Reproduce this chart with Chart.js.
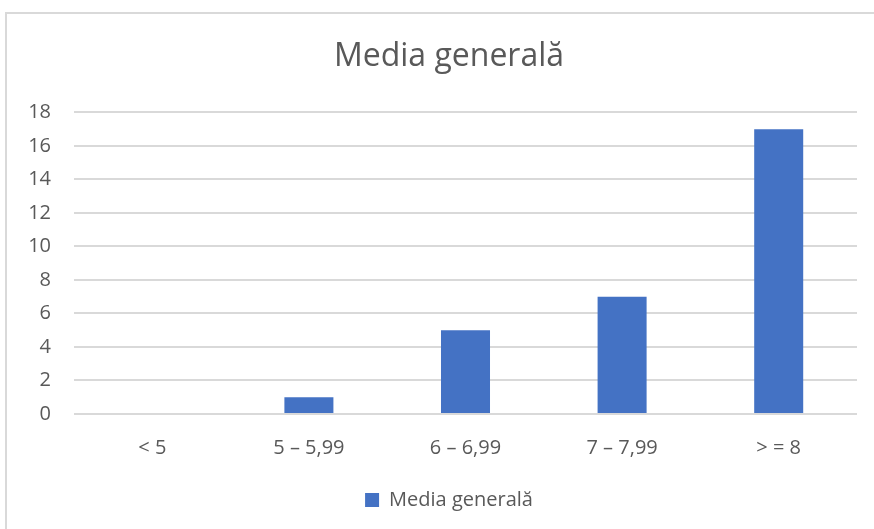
<!DOCTYPE html>
<html>
<head>
<meta charset="utf-8">
<script src="https://cdn.jsdelivr.net/npm/chart.js@4"></script>
<style>
  html, body { margin: 0; background: #fff; overflow: hidden; }
  #frame { position: absolute; left: 5px; top: 12px; width: 900px; height: 540px; border: 2px solid #d9d9d9; }
  #wrap { position: absolute; left: 0; top: 0; width: 898px; height: 529px; }
</style>
</head>
<body>
<div id="frame"></div>
<div id="wrap"><canvas id="chart" width="898" height="529" style="width:898px;height:529px"></canvas></div>
<script>
const categories = ["< 5", "5 – 5,99", "6 – 6,99", "7 – 7,99", "> = 8"];
const seriesName = "Media generală";
const values = [0, 1, 5, 7, 17];
const yTicks = [0, 2, 4, 6, 8, 10, 12, 14, 16, 18];

const textColor = "#595959";
const gridColor = "#d9d9d9";

new Chart(document.getElementById("chart"), {
  type: "bar",
  data: {
    labels: categories,
    datasets: [
      {
        label: seriesName,
        data: values,
        backgroundColor: "#4472C4",
        categoryPercentage: 1,
        barPercentage: 0.313,
      },
    ],
  },
  options: {
    responsive: false,
    animation: false,
    layout: { padding: { left: 0, right: 0, top: 0, bottom: 9 } },
    scales: {
      x: {
        grid: { display: false },
        border: { display: false },
        ticks: { color: textColor, font: { family: "Open Sans", size: 20 }, padding: 14 },
      },
      y: {
        min: 0,
        max: 18,
        afterBuildTicks: (axis) => {
          axis.ticks = yTicks.map((v) => ({ value: v }));
        },
        afterFit: (axis) => {
          axis.width = 74;
        },
        grid: { color: gridColor, lineWidth: 2, drawTicks: false },
        border: { display: false },
        ticks: { color: textColor, font: { family: "Open Sans", size: 20 }, padding: 23 },
      },
      // empty right margin, so the title and legend centre on the full frame
      yRight: {
        type: "linear",
        position: "right",
        grid: { display: false },
        border: { display: false },
        ticks: { display: false },
        afterFit: (axis) => {
          axis.width = 41;
        },
      },
    },
    plugins: {
      title: {
        display: true,
        text: seriesName,
        color: textColor,
        font: { family: "Open Sans", size: 32, weight: "normal" },
        padding: { top: 38, bottom: 36 },
      },
      legend: {
        position: "bottom",
        labels: {
          color: textColor,
          font: { family: "Open Sans", size: 20 },
          boxWidth: 14,
          boxHeight: 14,
          padding: 16,
        },
      },
      tooltip: { enabled: false },
    },
  },
});
</script>
</body>
</html>
